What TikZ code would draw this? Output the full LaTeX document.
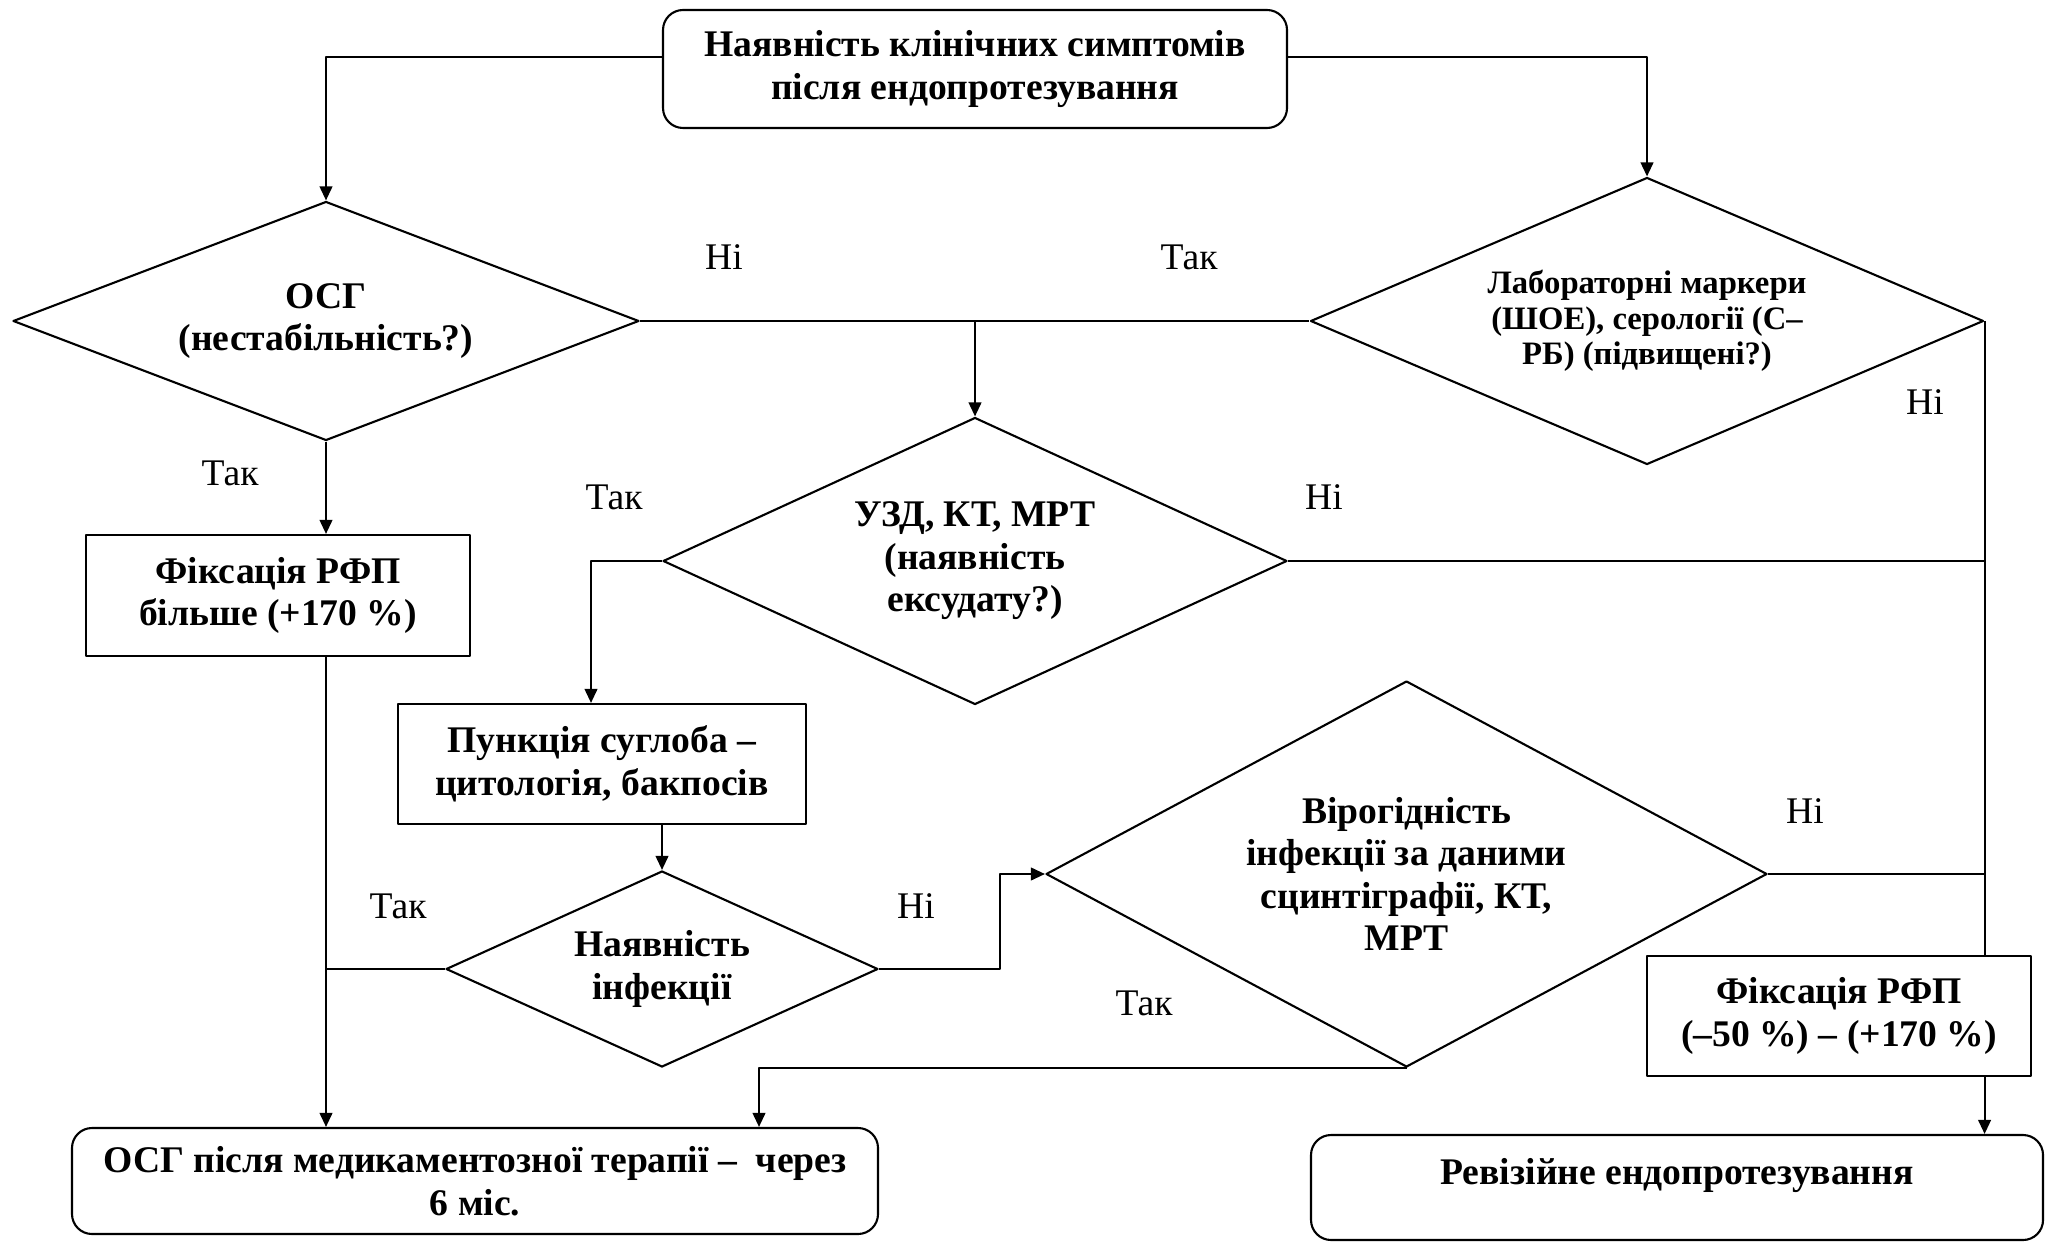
\documentclass[tikz,border=0pt]{standalone}
\usepackage{fontspec}
\setmainfont{Liberation Serif}
\usetikzlibrary{arrows.meta,shapes.geometric,positioning}

\begin{document}
\begin{tikzpicture}[line join=round,line width=0.6pt,
  every node/.style={font=\fontsize{10.7}{12.1}\selectfont\bfseries,align=center},
  boxnode/.style={draw,rectangle,inner sep=0pt},
  roundbox/.style={draw,rectangle,rounded corners=2mm,inner sep=0pt},
  decision/.style={draw,diamond,inner sep=0pt},
  answer/.style={font=\fontsize{10.7}{12.1}\selectfont},
  arr/.style={-{Triangle[length=4pt,width=3.6pt]}}]
  \useasboundingbox (0,0) rectangle (20.45,-12.42);
  \node[roundbox,minimum width=6.24cm,minimum height=1.18cm] (top) at (9.75,-0.69) {Наявність клінічних симптомів\\після ендопротезування};
  \node[decision,minimum width=6.26cm,minimum height=2.39cm,shape aspect=2.62] (osg) at (3.26,-3.21) {ОСГ\\(нестабільність?)};
  \node[decision,minimum width=6.73cm,minimum height=2.87cm,shape aspect=2.35,font=\fontsize{9.3}{10.1}\selectfont\bfseries] (lab) at (16.47,-3.21) {Лабораторні маркери\\(ШОЕ), серології (С–\\РБ) (підвищені?)};
  \node[decision,minimum width=6.24cm,minimum height=2.87cm,shape aspect=2.17] (uzd) at (9.75,-5.61) {УЗД, КТ, МРТ\\(наявність\\ексудату?)};
  \node[boxnode,minimum width=3.84cm,minimum height=1.21cm] (fix1) at (2.78,-5.955) {Фіксація РФП\\більше (+170 \%)};
  \node[boxnode,minimum width=4.08cm,minimum height=1.20cm] (punc) at (6.02,-7.64) {Пункція суглоба –\\цитологія, бакпосів};
  \node[decision,minimum width=4.32cm,minimum height=1.96cm,shape aspect=2.2] (inf) at (6.62,-9.69) {Наявність\\інфекції};
  \node[decision,minimum width=7.21cm,minimum height=3.86cm,shape aspect=1.87] (vir) at (14.065,-8.74) {Вірогідність\\інфекції за даними\\сцинтіграфії, КТ,\\МРТ};
  \node[boxnode,minimum width=3.84cm,minimum height=1.20cm] (fix2) at (18.39,-10.16) {Фіксація РФП\\(–50 \%) – (+170 \%)};
  \node[roundbox,minimum width=8.06cm,minimum height=1.06cm] (ther) at (4.75,-11.81) {ОСГ після медикаментозної терапії –~~через\\6 міс.};
  \node[roundbox,minimum width=7.32cm,minimum height=1.05cm] (rev) at (16.77,-11.875) {\raisebox{1.2mm}[\height][\depth]{Ревізійне ендопротезування}};

  \node[answer] (osgno) at (7.24,-2.57) {Ні};
  \node[answer] (labyes) at (11.89,-2.57) {Так};
  \node[answer] (osgyes) at (2.30,-4.73) {Так};
  \node[answer] (uzdyes) at (6.14,-4.97) {Так};
  \node[answer] (uzdno) at (13.24,-4.97) {Ні};
  \node[answer] (labno) at (19.25,-4.02) {Ні};
  \node[answer] (infyes) at (3.98,-9.06) {Так};
  \node[answer] (infno) at (9.16,-9.06) {Ні};
  \node[answer] (virno) at (18.05,-8.11) {Ні};
  \node[answer] (viryes) at (11.44,-10.03) {Так};

  \draw[arr] ([yshift=1.2mm]top.west) -| (osg.north);
  \draw[arr] ([yshift=1.2mm]top.east) -| (lab.north);
  \draw (osg.east) -- (lab.west);
  \draw[arr] (uzd.north |- osg.east) -- (uzd.north);
  \draw[arr] (osg.south) -- (osg.south |- fix1.north);
  \draw[arr] (osg.south |- fix1.south) -- (osg.south |- ther.north);
  \draw[arr] (uzd.west) -| ([xshift=-1.1mm]punc.north);
  \draw[arr] (inf.north |- punc.south) -- (inf.north);
  \draw (inf.west) -- (inf.west -| osg.south);
  \draw[arr] (inf.east) -- ++(1.21,0) |- (vir.west);
  \draw (uzd.east) -- (uzd.east -| lab.east);
  \draw (vir.east) -- (vir.east -| lab.east);
  \draw[arr] (vir.south) -| ([xshift=2.84cm]ther.north);
  \draw (lab.east) -- (lab.east |- fix2.north);
  \draw[arr] (lab.east |- fix2.south) -- (lab.east |- rev.north);
\end{tikzpicture}
\end{document}
